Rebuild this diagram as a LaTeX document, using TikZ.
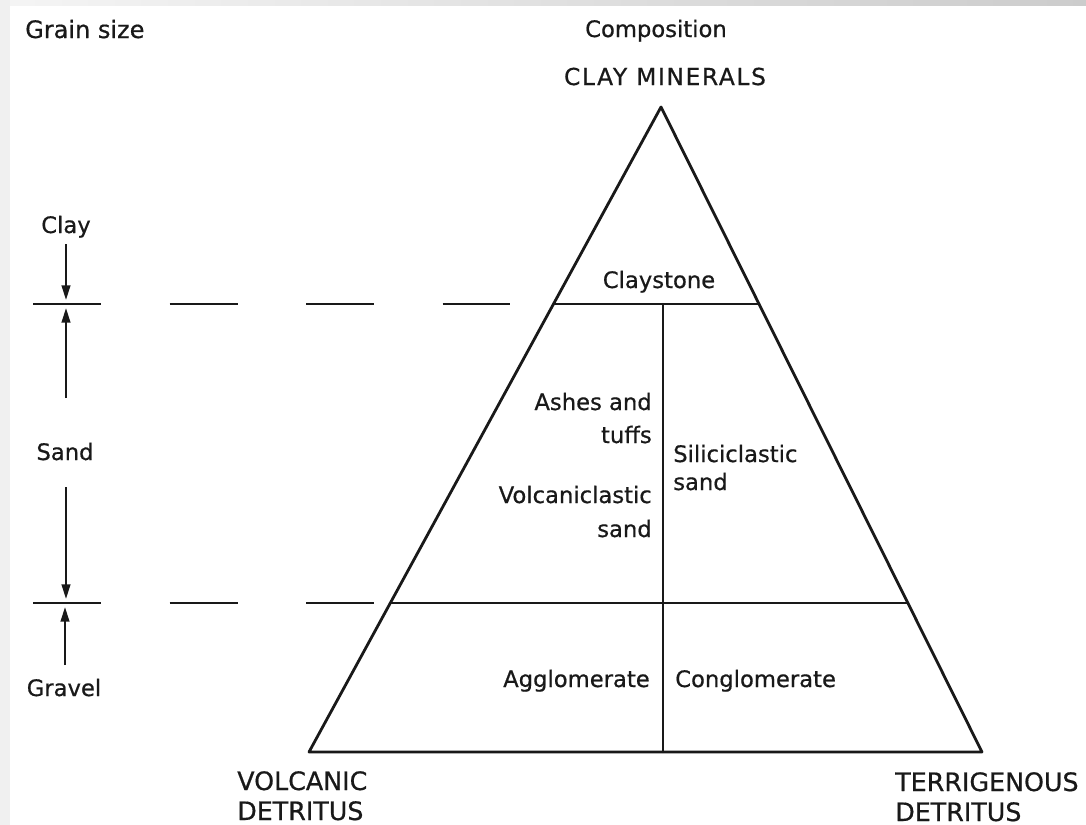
\documentclass[tikz,border=0pt]{standalone}
\usepackage{fontspec}
\setmainfont{DejaVu Sans}[FakeBold=0.6]
\newfontfamily\spacedcaps{DejaVu Sans}[LetterSpace=7,FakeBold=0.6]
\usetikzlibrary{arrows.meta,calc}
\begin{document}
\begin{tikzpicture}[x=0.75pt,y=-0.75pt,
  edge/.style={line width=2.1pt, line cap=round, line join=round, draw=black!90},
  arr/.style={line width=1.6pt, draw=black!90, -{Triangle[length=11pt,width=6.5pt]}},
  dashline/.style={line width=2.1pt, draw=black!90, dash pattern=on 51pt off 51.4pt},
  lab/.style={inner sep=0pt, text=black!90, font=\fontsize{17}{20}\selectfont},
  biglab/.style={inner sep=0pt, text=black!90, font=\fontsize{19}{22}\selectfont},
  capslab/.style={inner sep=0pt, text=black!90, font=\spacedcaps\fontsize{17.5}{20}\selectfont},
]
\useasboundingbox (0,0) rectangle (1086,825);
\fill[white] (0,0) rectangle (1086,825);
\shade[left color=gray!8, right color=gray!40] (0,0) rectangle (1086,5);
\fill[gray!12] (0,0) rectangle (10,825);

% triangle corners and divisions
\coordinate (apex) at (661,107);
\coordinate (bl) at (309,752);
\coordinate (br) at (982,752);
\coordinate (c1l) at ($(apex)!0.3054!(bl)$);
\coordinate (c1r) at ($(apex)!0.3054!(br)$);
\coordinate (c2l) at ($(apex)!0.769!(bl)$);
\coordinate (c2r) at ($(apex)!0.769!(br)$);
\coordinate (dtop) at (663,304);
\coordinate (dbot) at (663,752);

\draw[edge] (apex) -- (bl) -- (br) -- cycle;
\draw[edge] (c1l) -- (c1r);
\draw[edge] (c2l) -- (c2r);
\draw[edge, line width=1.8pt] (dtop) -- (dbot);

% dashed boundaries
\coordinate (d1s) at (33,304);
\coordinate (d1e) at (510,304);
\coordinate (d2s) at (33,603);
\coordinate (d2e) at (374,603);
\draw[dashline] (d1s) -- (d1e);
\draw[dashline] (d2s) -- (d2e);

% grain size arrows
\coordinate (a1s) at (66,244);
\coordinate (a1e) at (66,300);
\coordinate (a2s) at (66,398);
\coordinate (a2e) at (66,308);
\coordinate (a3s) at (66,487);
\coordinate (a3e) at (66,599);
\coordinate (a4s) at (65,665);
\coordinate (a4e) at (65,607);
\draw[arr] (a1s) -- (a1e);
\draw[arr] (a2s) -- (a2e);
\draw[arr] (a3s) -- (a3e);
\draw[arr] (a4s) -- (a4e);

% labels
\node[lab, font=\fontsize{18}{20}\selectfont, anchor=base west] (grain) at (25,38) {Grain size};
\node[lab, anchor=base] (clay) at (66,233) {Clay};
\node[lab, anchor=base] (sand) at (65,460) {Sand};
\node[lab, anchor=base] (gravel) at (64,696) {Gravel};

\node[lab, anchor=base] (comp) at (656,37) {Composition};
\node[capslab, anchor=base] (claymin) at (665,85) {CLAY MINERALS};
\node[lab, anchor=base] (claystone) at (659,288) {Claystone};

\node[lab, anchor=base east] (ashes) at (652,410) {Ashes and};
\node[lab, anchor=base east] (tuffs) at (652,443) {tuffs};
\node[lab, anchor=base east] (volc) at (652,503) {Volcaniclastic};
\node[lab, anchor=base east] (vsand) at (652,537) {sand};
\node[lab, anchor=base west] (silic) at (673,462) {Siliciclastic};
\node[lab, anchor=base west] (ssand) at (673,490) {sand};
\node[lab, anchor=base east] (agglo) at (650,687) {Agglomerate};
\node[lab, anchor=base west] (conglo) at (675,687) {Conglomerate};

\node[biglab, anchor=base west] (volcdet1) at (237,790) {VOLCANIC};
\node[biglab, anchor=base west] (volcdet2) at (237,820) {DETRITUS};
\node[biglab, anchor=base west] (terrdet1) at (895,791) {TERRIGENOUS};
\node[biglab, anchor=base west] (terrdet2) at (895,821) {DETRITUS};
\end{tikzpicture}
\end{document}
